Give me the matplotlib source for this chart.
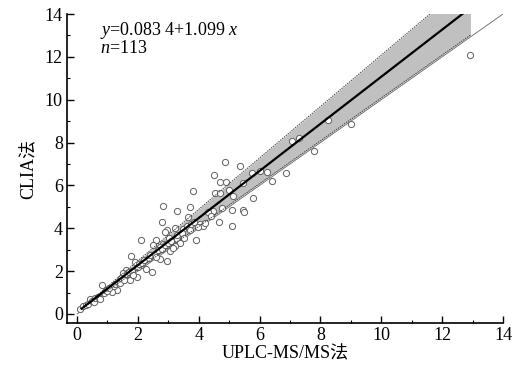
import numpy as np
import matplotlib
matplotlib.use("Agg")
from matplotlib import pyplot as plt
from matplotlib.ticker import MultipleLocator

plt.rcParams['font.family'] = ['Liberation Serif', 'Noto Sans CJK SC']
plt.rcParams['mathtext.fontset'] = 'custom'
plt.rcParams['mathtext.rm'] = 'Liberation Serif'
plt.rcParams['mathtext.it'] = 'Liberation Serif:italic'

x_pts = [12.9, 9.0, 8.25, 7.07, 7.3, 7.79, 6.87,
         4.86, 5.36, 5.75, 6.01, 6.25, 6.41, 4.5, 4.7, 4.9, 3.81, 4.53, 4.7, 5.0,
         5.13, 5.46, 5.78, 3.71, 4.77, 5.1, 5.46, 5.49, 4.47, 4.67, 5.09, 3.65,
         4.04, 4.14,
         2.83, 3.29, 2.79, 2.96, 3.22, 3.48, 3.61, 3.98, 2.1, 2.6, 3.02, 3.29,
         3.91, 4.2, 2.5, 2.83, 3.38,
         0.82, 1.77, 1.9, 1.61, 1.51, 1.74, 1.97, 2.27, 2.46, 2.1, 2.73, 2.96,
         2.73, 3.06, 3.22, 2.89, 1.31, 1.15, 0.43, 0.1, 0.2,
         0.3, 0.35, 0.5, 0.55, 0.6, 0.7, 0.75, 0.9, 0.95, 1.0, 1.05, 1.2, 1.25,
         1.35, 1.4, 1.45, 1.55, 1.65, 1.7, 1.8, 1.85, 2.0, 2.05, 2.15, 2.2, 2.35,
         2.4, 2.55, 2.6, 2.65, 2.8, 2.9, 3.0, 3.1, 3.15, 3.3, 3.45, 3.5, 3.7,
         3.75, 3.85, 4.3, 4.4]
y_pts = [12.1, 8.85, 9.05, 8.07, 8.2, 7.6, 6.58,
         7.09, 6.9, 6.58, 6.67, 6.62, 6.2, 6.49, 6.15, 6.17, 5.74, 5.66, 5.64, 5.79,
         5.52, 6.13, 5.41, 4.99, 4.95, 4.85, 4.85, 4.76, 4.81, 4.29, 4.11, 4.53,
         4.2, 4.11,
         5.04, 4.81, 4.29, 3.92, 4.01, 3.97, 4.11, 4.06, 3.45, 3.45, 3.55, 3.5,
         3.45, 4.25, 3.22, 3.27, 3.31,
         1.35, 2.7, 2.43, 2.05, 1.9, 1.59, 1.73, 2.1, 1.96, 2.29, 2.57, 2.47,
         3.13, 2.94, 3.17, 3.83, 1.12, 1.03, 0.7, 0.23, 0.37,
         0.4, 0.45, 0.6, 0.55, 0.75, 0.8, 0.7, 1.0, 1.1, 1.05, 1.2, 1.3, 1.4,
         1.5, 1.45, 1.7, 1.6, 1.85, 1.95, 2.0, 1.8, 2.2, 2.35, 2.4, 2.5, 2.6,
         2.75, 2.8, 2.65, 3.0, 3.05, 3.2, 3.3, 3.4, 3.1, 3.7, 3.8, 3.55, 3.9,
         4.2, 4.3, 4.75, 4.55]

# fit y = a + b x, band from slope interval
intercept = 0.0834
slope = 1.099
slope_lo = 1.0
slope_hi = 1.2
fit_range = [0.15, 12.93]
ticks = [0, 2, 4, 6, 8, 10, 12, 14]

fig = plt.figure(figsize=(5.13, 3.69), dpi=100)
ax = fig.add_axes([0.1306, 0.1247, 0.8499, 0.8373])

xf = np.linspace(fit_range[0], fit_range[1], 200)
lo = intercept + slope_lo * xf
hi = intercept + slope_hi * xf
ax.fill_between(xf, lo, hi, color='#c0c0c0', lw=0, zorder=1)
ax.plot([fit_range[1], fit_range[1]], [lo[-1], hi[-1]], color='#c0c0c0', lw=0.5, zorder=1)

# identity line
ax.plot([0, 14], [0, 14], color='#666666', lw=0.6, zorder=2)

ax.scatter(x_pts, y_pts, s=20, facecolor='white', edgecolor='#606060',
           linewidth=0.7, zorder=3)

ax.plot(xf, lo, color='#444444', lw=0.7, ls=(0, (1.5, 1)), zorder=4)
ax.plot(xf, hi, color='#444444', lw=0.7, ls=(0, (1.5, 1)), zorder=4)
ax.plot(xf, intercept + slope * xf, color='black', lw=1.6, zorder=5)

ax.set_xlim(-0.33, 14)
ax.set_ylim(-0.42, 14)
ax.spines['top'].set_visible(False)
ax.spines['right'].set_visible(False)
for s in ['left', 'bottom']:
    ax.spines[s].set_linewidth(1.2)

ax.set_xticks(ticks)
ax.set_yticks(ticks)
ax.xaxis.set_minor_locator(MultipleLocator(1))
ax.yaxis.set_minor_locator(MultipleLocator(1))
ax.tick_params(which='major', direction='in', length=5, width=1.0, labelsize=13, pad=3)
ax.tick_params(which='minor', direction='in', length=2.5, width=0.8)

ax.set_xlabel('UPLC-MS/MS法', fontsize=13, labelpad=1)
ax.set_ylabel('CLIA法', fontsize=13, labelpad=5)

ax.text(0.75, 13.72, '$y$=0.083 4+1.099 $x$\n$n$=113', fontsize=13,
        va='top', linespacing=0.95)

fig.savefig('out.png', dpi=100)
